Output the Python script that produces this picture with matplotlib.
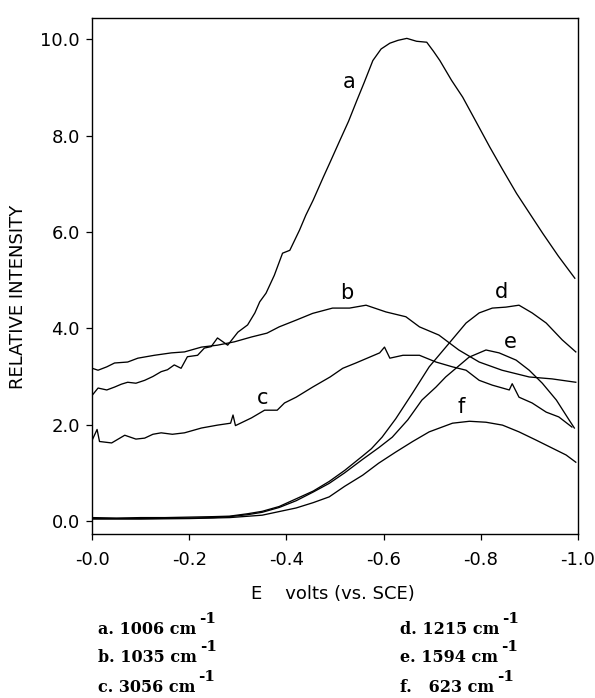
import matplotlib
matplotlib.use("Agg")
import matplotlib.pyplot as plt

# potential E (volts vs SCE) and relative intensity
E_a = [0.0, -0.012, -0.03, -0.046, -0.06, -0.073, -0.09, -0.108, -0.125, -0.142, -0.155,
       -0.169, -0.183, -0.196, -0.217, -0.231, -0.245, -0.258, -0.279, -0.30, -0.32,
       -0.335, -0.345, -0.358, -0.375, -0.392, -0.407, -0.427, -0.44, -0.455, -0.476,
       -0.49, -0.51, -0.528, -0.545, -0.56, -0.578, -0.595, -0.613, -0.63, -0.648,
       -0.668, -0.689, -0.703, -0.716, -0.74, -0.763, -0.79, -0.819, -0.845, -0.874,
       -0.90, -0.928, -0.96, -0.994]
I_a = [2.61, 2.76, 2.72, 2.78, 2.84, 2.88, 2.86, 2.92, 3.00, 3.10, 3.14,
       3.24, 3.17, 3.41, 3.44, 3.59, 3.62, 3.80, 3.65, 3.92, 4.07,
       4.32, 4.55, 4.73, 5.10, 5.56, 5.62, 6.04, 6.35, 6.66, 7.14,
       7.45, 7.90, 8.30, 8.73, 9.10, 9.56, 9.80, 9.92, 9.98, 10.02,
       9.96, 9.94, 9.75, 9.56, 9.15, 8.80, 8.30, 7.76, 7.30, 6.80,
       6.40, 5.97, 5.50, 5.04]

E_b = [0.0, -0.012, -0.03, -0.046, -0.073, -0.094, -0.128, -0.163, -0.19, -0.225, -0.258,
       -0.293, -0.328, -0.36, -0.385, -0.42, -0.454, -0.495, -0.53, -0.564, -0.605,
       -0.646, -0.674, -0.714, -0.755, -0.797, -0.844, -0.90, -0.947, -0.996]
I_b = [3.17, 3.13, 3.20, 3.28, 3.30, 3.38, 3.44, 3.49, 3.51, 3.61, 3.65,
       3.72, 3.82, 3.90, 4.03, 4.17, 4.31, 4.42, 4.42, 4.48, 4.34,
       4.24, 4.03, 3.86, 3.55, 3.30, 3.13, 2.99, 2.95, 2.88]

E_c = [0.0, -0.01, -0.015, -0.04, -0.067, -0.09, -0.108, -0.125, -0.142, -0.165, -0.19,
       -0.225, -0.258, -0.285, -0.29, -0.295, -0.328, -0.355, -0.381, -0.396, -0.42,
       -0.454, -0.49, -0.516, -0.543, -0.571, -0.592, -0.602, -0.613, -0.64, -0.674,
       -0.708, -0.742, -0.77, -0.797, -0.824, -0.859, -0.865, -0.879, -0.906, -0.935,
       -0.961, -0.988]
I_c = [1.68, 1.90, 1.65, 1.62, 1.78, 1.70, 1.72, 1.80, 1.83, 1.80, 1.83,
       1.93, 1.99, 2.03, 2.20, 1.98, 2.14, 2.30, 2.30, 2.45, 2.57,
       2.78, 2.99, 3.17, 3.28, 3.40, 3.49, 3.61, 3.38, 3.44, 3.44,
       3.30, 3.20, 3.13, 2.92, 2.82, 2.72, 2.85, 2.57, 2.45, 2.26,
       2.16, 1.95]

E_d = [0.0, -0.05, -0.1, -0.15, -0.2, -0.25, -0.283, -0.32, -0.35, -0.385, -0.42,
       -0.455, -0.488, -0.52, -0.557, -0.575, -0.597, -0.625, -0.66, -0.694, -0.735,
       -0.77, -0.797, -0.824, -0.852, -0.879, -0.906, -0.935, -0.968, -0.996]
I_d = [0.07, 0.06, 0.07, 0.07, 0.08, 0.09, 0.10, 0.15, 0.20, 0.30, 0.46,
       0.62, 0.82, 1.05, 1.35, 1.50, 1.74, 2.12, 2.66, 3.20, 3.69,
       4.11, 4.32, 4.42, 4.44, 4.48, 4.32, 4.11, 3.76, 3.51]

E_e = [0.0, -0.1, -0.2, -0.25, -0.283, -0.32, -0.35, -0.385, -0.42, -0.455, -0.488,
       -0.52, -0.557, -0.59, -0.618, -0.65, -0.679, -0.708, -0.728, -0.776, -0.811,
       -0.838, -0.873, -0.90, -0.927, -0.956, -0.982, -0.993]
I_e = [0.05, 0.05, 0.06, 0.07, 0.09, 0.13, 0.18, 0.28, 0.42, 0.60, 0.78,
       1.00, 1.28, 1.52, 1.74, 2.10, 2.51, 2.78, 2.99, 3.40, 3.55,
       3.49, 3.34, 3.13, 2.86, 2.51, 2.10, 1.93]

E_f = [0.0, -0.1, -0.2, -0.283, -0.35, -0.42, -0.455, -0.488, -0.52, -0.557, -0.59,
       -0.625, -0.66, -0.694, -0.742, -0.777, -0.811, -0.845, -0.879, -0.914, -0.948,
       -0.976, -0.996]
I_f = [0.04, 0.04, 0.05, 0.07, 0.12, 0.27, 0.38, 0.50, 0.72, 0.95, 1.20,
       1.43, 1.65, 1.85, 2.03, 2.07, 2.05, 1.99, 1.85, 1.68, 1.51,
       1.37, 1.22]

curve_names = ['a', 'b', 'c', 'd', 'e', 'f']
label_E = [-0.529, -0.525, -0.35, -0.843, -0.862, -0.759]
label_I = [9.11, 4.73, 2.55, 4.75, 3.72, 2.37]

x_ticks = [0.0, -0.2, -0.4, -0.6, -0.8, -1.0]
x_ticklabels = ['-0.0', '-0.2', '-0.4', '-0.6', '-0.8', '-1.0']
y_ticks = [0, 2, 4, 6, 8, 10]
y_ticklabels = ['0.0', '2.0', '4.0', '6.0', '8.0', '10.0']

key_left = ['a. 1006 cm', 'b. 1035 cm', 'c. 3056 cm']
key_right = ['d. 1215 cm', 'e. 1594 cm', 'f.   623 cm']

fig = plt.figure(figsize=(5.95, 6.98), dpi=100)
ax = fig.add_axes([0.155, 0.235, 0.816, 0.739])

for E, I in [(E_a, I_a), (E_b, I_b), (E_c, I_c), (E_d, I_d), (E_e, I_e), (E_f, I_f)]:
    ax.plot(E, I, color='black', linewidth=0.95)

for name, xe, yi in zip(curve_names, label_E, label_I):
    ax.text(xe, yi, name, fontsize=15, ha='center', va='center')

ax.set_xlim(0.0, -1.0)
ax.set_ylim(-0.27, 10.44)
ax.set_xticks(x_ticks)
ax.set_xticklabels(x_ticklabels)
ax.set_yticks(y_ticks)
ax.set_yticklabels(y_ticklabels)
ax.tick_params(direction='out', length=4, width=0.9, labelsize=13)
ax.tick_params(axis='x', pad=8)
ax.tick_params(axis='y', pad=5)
for s in ax.spines.values():
    s.set_linewidth(1.0)

ax.set_ylabel('RELATIVE INTENSITY', fontsize=13)
ax.yaxis.set_label_coords(-0.135, 0.46)
ax.set_xlabel('E    volts (vs. SCE)', fontsize=13)
ax.xaxis.set_label_coords(0.496, -0.098)

# key under the plot, with a raised "-1" after each "cm"
renderer = fig.canvas.get_renderer()
key_y = [630, 658, 688]
for txt_l, txt_r, yp in zip(key_left, key_right, key_y):
    fy = 1 - yp / 698
    for xp, txt in [(98, txt_l), (400, txt_r)]:
        t = fig.text(xp / 595, fy, txt, fontsize=11.5, fontweight='bold',
                     family='DejaVu Serif', va='center')
        bb = t.get_window_extent(renderer)
        fig.text((bb.x1 + 3) / 595, fy + 11 / 698, '-1', fontsize=11, fontweight='bold',
                 family='DejaVu Serif', va='center')

fig.savefig('out.png', dpi=100)
